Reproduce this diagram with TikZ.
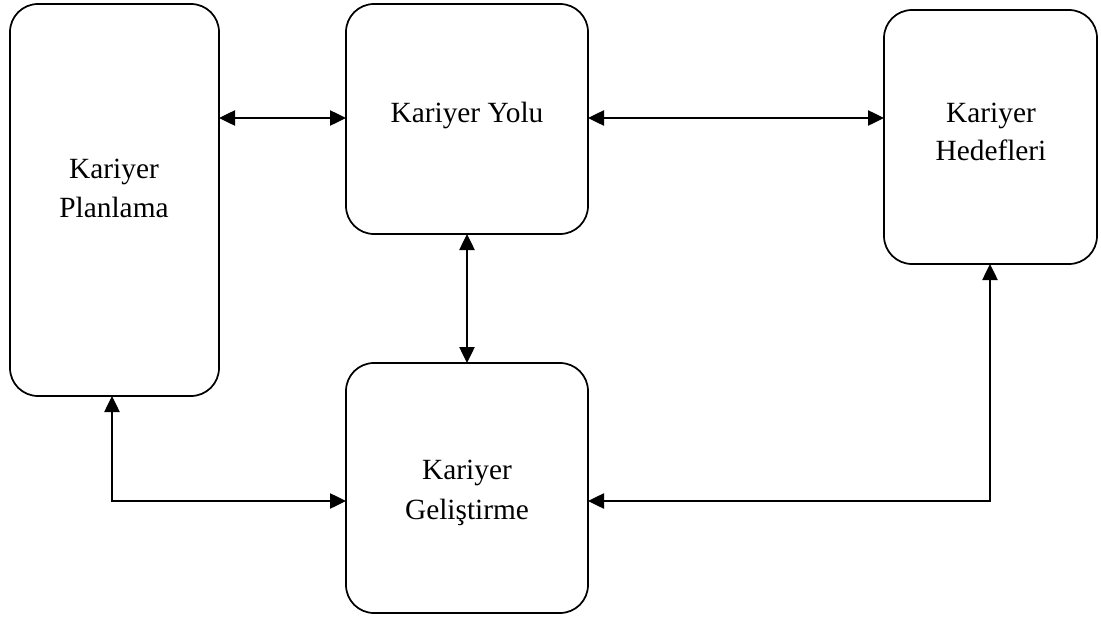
\documentclass[tikz,border=0pt]{standalone}
\usepackage{fontspec}
\setmainfont{Liberation Serif}
\usetikzlibrary{arrows.meta,fit}
\begin{document}
\begin{tikzpicture}[x=0.75pt,y=-0.75pt,
  box/.style={draw=black,line width=1.3pt,rounded corners=21pt,inner sep=0pt,outer sep=0pt},
  lbl/.style={anchor=base,inner sep=0pt,font=\fontsize{22pt}{26pt}\selectfont},
  link/.style={line width=1pt,{Triangle[length=12pt,width=11.5pt]}-{Triangle[length=12pt,width=11.5pt]}}]
  \useasboundingbox (0,0) rectangle (1101,625);
  % boxes
  \node[box,fit={(10,4) (219,396)}] (A) {};
  \node[box,fit={(346,4) (588,234)}] (B) {};
  \node[box,fit={(884,10) (1097,264)}] (C) {};
  \node[box,fit={(346,363) (588,613)}] (D) {};
  % labels
  \node[lbl] (tA1) at (114,178) {Kariyer};
  \node[lbl] (tA2) at (114,217) {Planlama};
  \node[lbl] (tB)  at (467,122) {Kariyer Yolu};
  \node[lbl] (tC1) at (991,122) {Kariyer};
  \node[lbl] (tC2) at (991,160) {Hedefleri};
  \node[lbl] (tD1) at (467,479) {Kariyer};
  \node[lbl] (tD2) at (467,519) {Geliştirme};
  % connectors
  \coordinate (row) at (0,118);
  \coordinate (lowA) at (112,501);
  \coordinate (lowC) at (990,501);
  \draw[link] (A.east |- row) -- (B.west |- row);
  \draw[link] (B.east |- row) -- (C.west |- row);
  \draw[link] (B.south) -- (D.north);
  \draw[link] (A.south -| lowA) -- (lowA) -- (lowA -| D.west);
  \draw[link] (C.south -| lowC) -- (lowC) -- (lowC -| D.east);
\end{tikzpicture}
\end{document}
